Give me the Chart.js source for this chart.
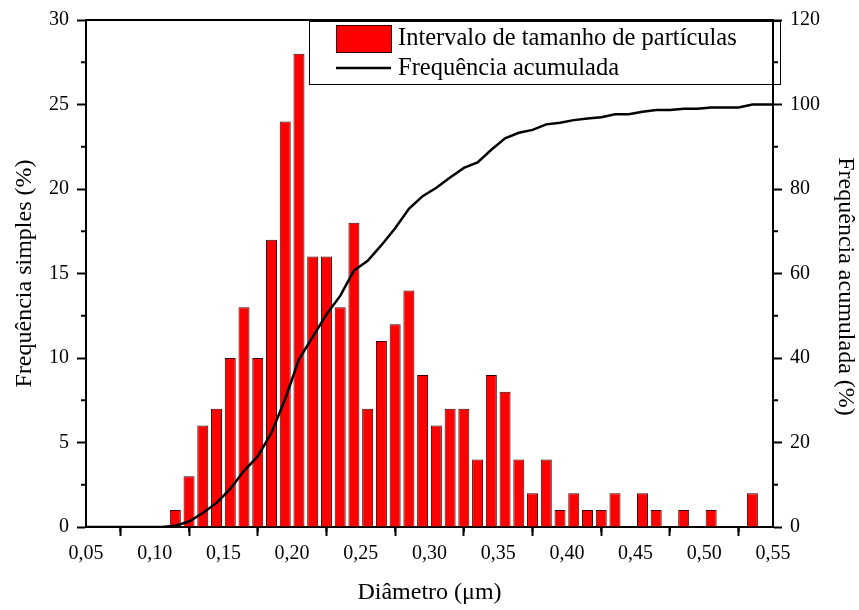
<!DOCTYPE html>
<html>
<head>
<meta charset="utf-8">
<script src="https://cdn.jsdelivr.net/npm/chart.js@4.4.1/dist/chart.umd.min.js"></script>
<style>
  html, body { margin: 0; padding: 0; background: #fff; }
  #wrap { width: 859px; height: 610px; position: relative; }
</style>
</head>
<body>
<div id="wrap"><canvas id="myChart"></canvas></div>
<script>
// bin centres (um) and simple frequency (%)
const diameters = [0.115, 0.125, 0.135, 0.145, 0.155, 0.165, 0.175, 0.185, 0.195, 0.205,
    0.215, 0.225, 0.235, 0.245, 0.255, 0.265, 0.275, 0.285, 0.295, 0.305,
    0.315, 0.325, 0.335, 0.345, 0.355, 0.365, 0.375, 0.385, 0.395, 0.405,
    0.415, 0.425, 0.435, 0.445, 0.455, 0.465, 0.475, 0.485, 0.495, 0.505,
    0.515, 0.525, 0.535];
const freqSimple = [1, 3, 6, 7, 10, 13, 10, 17, 24, 28,
    16, 16, 13, 18, 7, 11, 12, 14, 9, 6,
    7, 7, 4, 9, 8, 4, 2, 4, 1, 2,
    1, 1, 2, 0, 2, 1, 0, 1, 0, 1,
    0, 0, 2];

// cumulative curve points (um, %)
const cumX = [0.05, 0.105, 0.115, 0.125, 0.135, 0.145, 0.155, 0.165, 0.175, 0.185, 0.195,
    0.205, 0.215, 0.225, 0.235, 0.245, 0.255, 0.265, 0.275, 0.285, 0.295,
    0.305, 0.315, 0.325, 0.335, 0.345, 0.355, 0.365, 0.375, 0.385, 0.395,
    0.405, 0.415, 0.425, 0.435, 0.445, 0.455, 0.465, 0.475, 0.485, 0.495,
    0.505, 0.515, 0.525, 0.535, 0.55];
const freqCum = [0, 0, 0.3, 1.3, 3.3, 5.7, 9.0, 13.3, 16.7, 22.3, 30.3,
    39.7, 45.0, 50.3, 54.7, 60.7, 63.0, 66.7, 70.7, 75.3, 78.3,
    80.3, 82.7, 85.0, 86.3, 89.3, 92.0, 93.3, 94.0, 95.3, 95.7,
    96.3, 96.7, 97.0, 97.7, 97.7, 98.3, 98.7, 98.7, 99.0, 99.0,
    99.3, 99.3, 99.3, 100, 100];

const xTicks = [0.05, 0.10, 0.15, 0.20, 0.25, 0.30, 0.35, 0.40, 0.45, 0.50, 0.55];
const leftTicks = [0, 5, 10, 15, 20, 25, 30];
const rightTicks = [0, 20, 40, 60, 80, 100, 120];

const labelBars = 'Intervalo de tamanho de partículas';
const labelLine = 'Frequência acumulada';
const rightTitle = 'Frequência acumulada (%)';

const serif = "'Liberation Serif', 'Times New Roman', serif";
Chart.defaults.color = '#000';
Chart.defaults.font.family = serif;

const barColor = '#ff0000';
const barEdge = '#3a0000';

// small ticks between the labelled ones
const minorTicks = {
    id: 'minorTicks',
    afterDraw(chart) {
        const c = chart.ctx;
        const s = chart.scales;
        c.save();
        c.strokeStyle = '#000';
        c.lineWidth = 2;
        c.beginPath();
        for (let i = 0; i < xTicks.length - 1; i++) {
            const px = s.x.getPixelForValue((xTicks[i] + xTicks[i + 1]) / 2);
            c.moveTo(px, s.x.top); c.lineTo(px, s.x.top + 5);
        }
        for (let i = 0; i < leftTicks.length - 1; i++) {
            const py = s.y.getPixelForValue((leftTicks[i] + leftTicks[i + 1]) / 2);
            c.moveTo(s.y.right, py); c.lineTo(s.y.right - 5, py);
        }
        for (let i = 0; i < rightTicks.length - 1; i++) {
            const py = s.y2.getPixelForValue((rightTicks[i] + rightTicks[i + 1]) / 2);
            c.moveTo(s.y2.left, py); c.lineTo(s.y2.left + 5, py);
        }
        c.stroke();

        // right axis title, sits a little below the middle in the original
        c.fillStyle = '#000';
        c.font = '24px ' + serif;
        c.textAlign = 'center';
        c.textBaseline = 'middle';
        c.translate(s.y2.right - 14, (s.y2.top + s.y2.bottom) / 2 + 13);
        c.rotate(Math.PI / 2);
        c.fillText(rightTitle, 0, 0);
        c.restore();
    }
};

// boxed legend inside the plot, top right
const boxLegend = {
    id: 'boxLegend',
    afterDraw(chart) {
        const c = chart.ctx;
        const a = chart.chartArea;
        const x0 = a.left + 223, y0 = a.top + 1, w = 471, h = 63;
        c.save();
        c.strokeStyle = '#000';
        c.lineWidth = 1;
        c.strokeRect(x0 + 0.5, y0 + 0.5, w, h);
        c.fillStyle = barColor;
        c.fillRect(x0 + 27, y0 + 4, 55, 27);
        c.strokeStyle = barEdge;
        c.strokeRect(x0 + 27.5, y0 + 4.5, 55, 27);
        c.strokeStyle = '#000';
        c.lineWidth = 2.5;
        c.beginPath();
        c.moveTo(x0 + 27, y0 + 47); c.lineTo(x0 + 82, y0 + 47);
        c.stroke();
        c.fillStyle = '#000';
        c.font = '24.5px ' + serif;
        c.textBaseline = 'middle';
        c.fillText(chart.data.datasets[0].label, x0 + 89, y0 + 18);
        c.fillText(chart.data.datasets[1].label, x0 + 89, y0 + 48);
        c.restore();
    }
};

const ctx = document.getElementById('myChart');
new Chart(ctx, {
    type: 'bar',
    data: {
        datasets: [{
            type: 'bar',
            label: labelBars,
            data: diameters.map((d, i) => ({ x: d, y: freqSimple[i] || null })),
            backgroundColor: barColor,
            borderColor: barEdge,
            borderWidth: 1,
            borderSkipped: 'start',
            barPercentage: 0.8,
            categoryPercentage: 1,
            yAxisID: 'y',
            order: 2
        }, {
            type: 'line',
            label: labelLine,
            data: cumX.map((d, i) => ({ x: d, y: freqCum[i] })),
            borderColor: '#000',
            borderWidth: 2.5,
            pointRadius: 0,
            tension: 0,
            fill: false,
            yAxisID: 'y2',
            order: 1
        }]
    },
    options: {
        responsive: true,
        maintainAspectRatio: false,
        animation: false,
        layout: { padding: 0 },
        plugins: {
            legend: { display: false },
            tooltip: { enabled: false }
        },
        scales: {
            x: {
                type: 'linear',
                position: 'bottom',
                min: 0.05,
                max: 0.55,
                offset: false,
                afterFit: s => { s.height = 83; },
                afterBuildTicks: s => { s.ticks = xTicks.map(v => ({ value: v })); },
                ticks: {
                    font: { size: 20 },
                    padding: 6,
                    maxRotation: 0,
                    autoSkip: false,
                    callback: v => v.toFixed(2).replace('.', ',')
                },
                grid: { drawOnChartArea: false, tickLength: 9, tickWidth: 2, tickColor: '#000' },
                border: { display: true, color: '#000', width: 2 },
                title: { display: true, text: 'Diâmetro (μm)', font: { size: 24 }, padding: { top: 4, bottom: 3 } }
            },
            x2: {
                type: 'linear',
                position: 'top',
                min: 0.05,
                max: 0.55,
                afterFit: s => { s.height = 20; },
                ticks: { display: false },
                grid: { display: false },
                border: { display: true, color: '#000', width: 2 }
            },
            y: {
                position: 'left',
                min: 0,
                max: 30,
                afterFit: s => { s.width = 86; },
                afterBuildTicks: s => { s.ticks = leftTicks.map(v => ({ value: v })); },
                ticks: { font: { size: 20 }, padding: 8 },
                grid: { drawOnChartArea: false, tickLength: 9, tickWidth: 2, tickColor: '#000' },
                border: { display: true, color: '#000', width: 2 },
                title: { display: true, text: 'Frequência simples (%)', font: { size: 24 }, padding: { top: 10, bottom: 4 } }
            },
            y2: {
                position: 'right',
                min: 0,
                max: 120,
                afterFit: s => { s.width = 86; },
                afterBuildTicks: s => { s.ticks = rightTicks.map(v => ({ value: v })); },
                ticks: { font: { size: 20 }, padding: 8 },
                grid: { drawOnChartArea: false, tickLength: 9, tickWidth: 2, tickColor: '#000' },
                border: { display: true, color: '#000', width: 2 },
                title: { display: false }
            }
        }
    },
    plugins: [minorTicks, boxLegend]
});
</script>
</body>
</html>
